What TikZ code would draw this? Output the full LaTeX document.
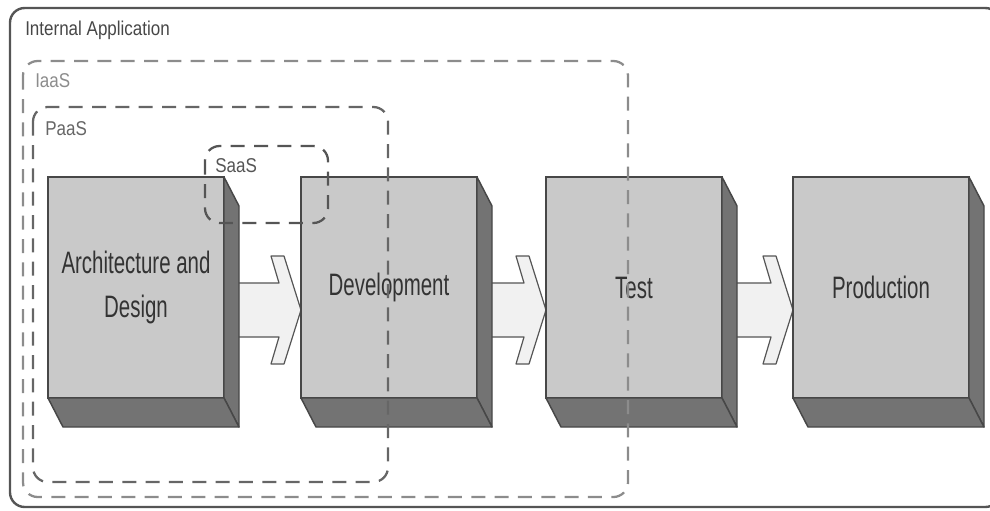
\documentclass[tikz,border=0pt]{standalone}
\usepackage{fontspec}
\setmainfont{Liberation Sans}
\newfontfamily\boxfont[FakeStretch=0.66]{Liberation Sans}
\newfontfamily\labelfont[FakeStretch=0.85]{Liberation Sans}
\usetikzlibrary{calc}
\pgfdeclarelayer{background}
\pgfsetlayers{background,main}

\definecolor{frontgray}{HTML}{C9C9C9}
\definecolor{sidegray}{HTML}{737373}
\definecolor{edgegray}{HTML}{474747}
\definecolor{arrowfill}{HTML}{F1F1F1}
\definecolor{framegray}{HTML}{555555}
\definecolor{iaasgray}{HTML}{8C8C8C}
\definecolor{paasgray}{HTML}{666666}
\definecolor{saasgray}{HTML}{555555}
\definecolor{textgray}{HTML}{333333}

\tikzset{
  stagebox/.style={draw=edgegray, fill=frontgray, line width=1.1pt,
    rectangle, inner sep=0pt, outer sep=0pt, anchor=north west,
    minimum width=132pt, minimum height=165.75pt,
    font=\boxfont\fontsize{23.25pt}{33pt}\selectfont, text=textgray, align=center},
  stageface/.style={draw=edgegray, fill=sidegray, line width=1.1pt, line join=round},
  flowarrow/.style={draw=framegray, fill=arrowfill, line width=0.9pt, line join=round},
  layerlabel/.style={anchor=base west, inner sep=0pt,
    font=\labelfont\fontsize{15pt}{18pt}\selectfont},
  layerframe/.style={line width=1.7pt, rounded corners=11pt,
    dash pattern=on 10.5pt off 7pt},
}

\newcommand{\stagedepth}[1]{%
  \filldraw[stageface] (#1.north east) -- ++(15,29) -- ($(#1.south east)+(15,29)$) -- (#1.south east) -- cycle;
  \filldraw[stageface] (#1.south west) -- ++(15,29) -- ($(#1.south east)+(15,29)$) -- (#1.south east) -- cycle;
}
\newcommand{\flowbetween}[2]{%
  \filldraw[flowarrow] ($(#1.north east)+(0,106)$) -- ($(#2.north west)+(-22,106)$)
    -- ++(-8,-27) -- ++(13,0) -- ($(#2.north west)+(0,133)$) -- ++(-17,54)
    -- ++(-13,0) -- ++(8,-27) -- ($(#1.north east)+(0,160)$) -- cycle;
}

\begin{document}
\begin{tikzpicture}[x=0.75pt, y=-0.75pt]
\useasboundingbox (0,0) rectangle (990,511);
\clip (0,0) rectangle (990,511);

% outer application frame, running past the right edge
\draw[framegray, line width=1.8pt, rounded corners=11pt] (10,8) rectangle (1000,507);
\node[layerlabel, text=edgegray] (lblapp) at (25,35) {Internal Application};

% the four lifecycle stages
\node[stagebox] (arch) at (48,177) {Architecture and\\Design};
\node[stagebox] (dev)  at (301,177) {Development};
\node[stagebox] (test) at (546,177) {Test};
\node[stagebox] (prod) at (793,177) {Production};

\stagedepth{arch}
\stagedepth{dev}
\stagedepth{test}
\stagedepth{prod}

% block arrows between stages, behind the boxes
\begin{pgfonlayer}{background}
  \flowbetween{arch}{dev}
  \flowbetween{dev}{test}
  \flowbetween{test}{prod}
\end{pgfonlayer}

% service layer frames
\draw[layerframe, iaasgray] (23,61) rectangle (628,497);
\draw[layerframe, paasgray] (33,107) rectangle (388,482);
\draw[layerframe, saasgray] (205,146) rectangle (328,223);

\node[layerlabel, text=iaasgray] (lbliaas) at (35,87) {IaaS};
\node[layerlabel, text=paasgray] (lblpaas) at (45,135) {PaaS};
\node[layerlabel, text=saasgray] (lblsaas) at (215,172) {SaaS};
\end{tikzpicture}
\end{document}
